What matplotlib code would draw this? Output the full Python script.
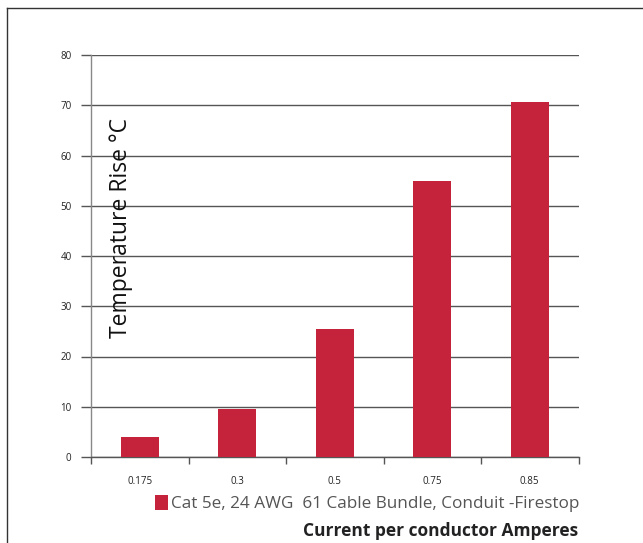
import matplotlib
matplotlib.use("Agg")
import matplotlib.pyplot as plt
from matplotlib.patches import Patch
from matplotlib.lines import Line2D

categories = ["0.175", "0.3", "0.5", "0.75", "0.85"]
values = [4.0, 9.5, 25.5, 55.0, 70.6]
series_name = "Cat 5e, 24 AWG  61 Cable Bundle, Conduit -Firestop"
y_ticks = [0, 10, 20, 30, 40, 50, 60, 70, 80]

plt.rcParams['font.family'] = ['Open Sans', 'DejaVu Sans']
bar_color = "#C4233B"
grid_color = "#555555"

fig = plt.figure(figsize=(6.43, 5.43), dpi=100)
ax = fig.add_axes([91/643, 1-457/543, (578.5-91)/643, (457-55)/543])

x = list(range(len(categories)))
ax.bar(x, values, width=0.39, color=bar_color, zorder=3)

ax.set_xlim(-0.5, len(categories)-0.5)
ax.set_ylim(0, 80)
ax.set_yticks(y_ticks)
ax.set_yticklabels([str(v) for v in y_ticks], fontsize=7, color="#222222")
ax.yaxis.grid(True, color=grid_color, linewidth=1.0, zorder=1)
ax.tick_params(axis='y', length=7, width=1.0, color=grid_color, pad=7)

ax.set_xticks(x)
ax.set_xticklabels(categories, fontsize=7, color="#222222")
ax.set_xticks([i-0.5 for i in range(len(categories)+1)], minor=True)
ax.tick_params(axis='x', which='major', length=0, pad=14)
ax.tick_params(axis='x', which='minor', length=5, width=1.0, color=grid_color)

for s in ['top', 'right']:
    ax.spines[s].set_visible(False)
ax.spines['left'].set_color("#888888")
ax.spines['left'].set_linewidth(1.0)
ax.spines['bottom'].set_color(grid_color)
ax.spines['bottom'].set_linewidth(1.0)

ax.text(0.062, 0.57, "Temperature Rise °C", transform=ax.transAxes, rotation=90,
        ha='center', va='center', fontsize=16.5, color="#111111", zorder=5)

leg = ax.legend(handles=[Patch(facecolor=bar_color, edgecolor='none', label=series_name)],
                loc='upper right', bbox_to_anchor=(1.015, -0.078), frameon=False,
                handlelength=0.75, handleheight=0.95, handletextpad=0.15, fontsize=12.3,
                borderaxespad=0)
for t in leg.get_texts():
    t.set_color("#555555")

ax.set_xlabel("Current per conductor Amperes", loc='right', fontsize=12.5,
              fontweight='bold', color="#222222", labelpad=25)

# outer frame
fig.add_artist(Line2D([7/643, 1.0], [1-8/543, 1-8/543], transform=fig.transFigure,
                      color="#333333", linewidth=1.0))
fig.add_artist(Line2D([7/643, 7/643], [0.0, 1-8/543], transform=fig.transFigure,
                      color="#333333", linewidth=1.0))

fig.savefig("out.png", dpi=100)
